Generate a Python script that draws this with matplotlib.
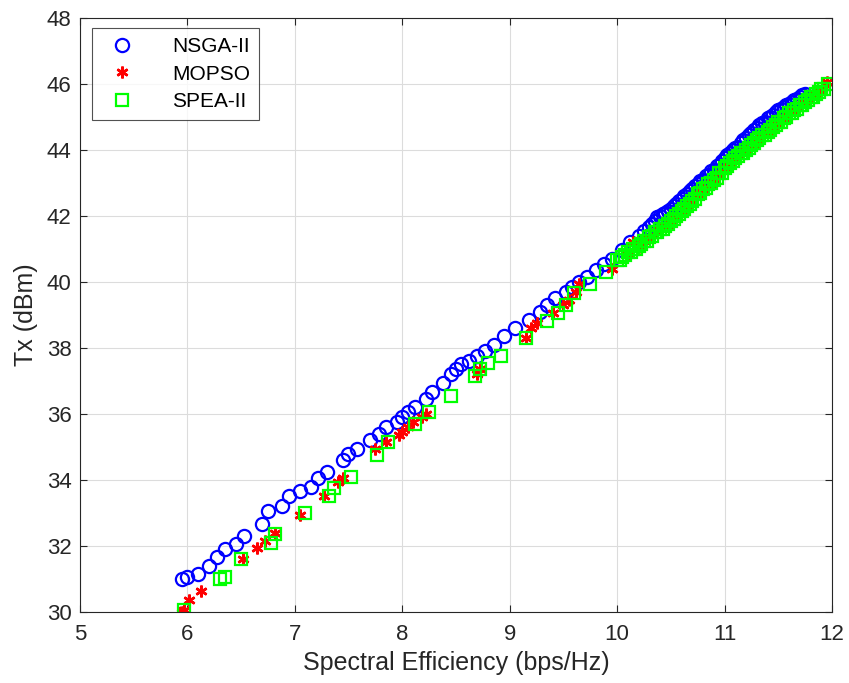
import matplotlib
matplotlib.use('Agg')
import matplotlib.pyplot as plt

# NSGA-II front
nsga_x = [5.95, 6.0, 6.1, 6.2, 6.28, 6.35, 6.45, 6.53, 6.7, 6.75, 6.88, 6.95, 7.05, 7.15,
          7.22, 7.3, 7.45, 7.5, 7.58, 7.7, 7.78, 7.85, 7.95, 8.0, 8.05, 8.12, 8.22, 8.28,
          8.38, 8.45, 8.5, 8.55, 8.62, 8.7, 8.77, 8.85, 8.95, 9.05, 9.18, 9.28, 9.35, 9.42,
          9.52, 9.58, 9.65, 9.72, 9.8, 9.88, 9.95, 10.05, 10.12, 10.2, 10.25,
          10.3, 10.35, 10.4, 10.45, 10.5, 10.55, 10.6, 10.65, 10.7, 10.75, 10.8, 10.85,
          10.9, 10.95, 11.0, 11.05, 11.1, 11.15, 11.2, 11.25, 11.3, 11.35, 11.4, 11.45,
          11.5, 11.55, 11.6, 11.65, 11.7, 11.75,
          10.325, 10.375, 10.425, 10.475, 10.525, 10.575, 10.625, 10.675, 10.725, 10.775,
          10.825, 10.875, 10.925, 10.975, 11.025, 11.075, 11.125, 11.175, 11.225, 11.275,
          11.325, 11.375, 11.425, 11.475, 11.525, 11.575, 11.625, 11.675, 11.725]
nsga_y = [31.0, 31.05, 31.15, 31.4, 31.65, 31.9, 32.05, 32.3, 32.65, 33.05, 33.2, 33.5, 33.65, 33.8,
          34.05, 34.25, 34.6, 34.8, 34.95, 35.2, 35.4, 35.6, 35.75, 35.9, 36.05, 36.2, 36.45, 36.65,
          36.95, 37.2, 37.35, 37.5, 37.6, 37.75, 37.9, 38.1, 38.35, 38.6, 38.85, 39.1, 39.3, 39.5,
          39.7, 39.85, 40.0, 40.15, 40.35, 40.55, 40.7, 40.95, 41.2, 41.4, 41.55,
          41.65, 41.85, 42.0, 42.1, 42.2, 42.35, 42.5, 42.65, 42.8, 42.95, 43.1, 43.25,
          43.4, 43.55, 43.75, 43.9, 44.05, 44.2, 44.35, 44.5, 44.65, 44.8, 44.95, 45.05,
          45.2, 45.3, 45.4, 45.5, 45.6, 45.7,
          41.75, 41.95, 42.05, 42.15, 42.3, 42.45, 42.6, 42.75, 42.9, 43.05,
          43.2, 43.35, 43.5, 43.65, 43.85, 44.0, 44.1, 44.3, 44.45, 44.6,
          44.75, 44.85, 45.0, 45.15, 45.25, 45.35, 45.45, 45.55, 45.65]

# MOPSO front
mopso_x = [5.95, 5.97, 6.02, 6.13, 6.52, 6.65, 6.72, 6.82, 7.05, 7.27, 7.4, 7.45, 7.75, 7.85,
           7.97, 8.0, 8.05, 8.1, 8.18, 8.22, 8.7, 8.72, 9.15, 9.2, 9.25, 9.4, 9.5, 9.55, 9.62,
           9.65, 9.95, 10.1, 10.15, 10.2, 10.26, 10.31, 10.36, 10.41, 10.46, 10.51, 10.56,
           10.61, 10.66, 10.71, 10.76, 10.81, 10.86, 10.91, 10.96, 11.01, 11.06, 11.11, 11.16,
           11.21, 11.26, 11.31, 11.36, 11.41, 11.46, 11.51, 11.56, 11.61, 11.66, 11.71, 11.76,
           11.81, 11.86, 11.91, 11.95]
mopso_y = [30.0, 30.05, 30.35, 30.65, 31.6, 31.95, 32.15, 32.4, 32.95, 33.5, 33.95, 34.05, 34.95, 35.15,
           35.35, 35.45, 35.6, 35.75, 35.9, 36.0, 37.2, 37.35, 38.3, 38.6, 38.75, 39.05, 39.3, 39.45, 39.7,
           39.95, 40.4, 40.85, 41.2, 41.05, 41.25, 41.35, 41.5, 41.6, 41.7, 41.85, 42.0,
           42.15, 42.3, 42.45, 42.65, 42.8, 42.95, 43.1, 43.3, 43.45, 43.6, 43.75, 43.9,
           44.0, 44.15, 44.3, 44.45, 44.55, 44.7, 44.85, 44.95, 45.1, 45.2, 45.35, 45.45,
           45.6, 45.7, 45.85, 46.05]

# SPEA-II front
spea_x = [5.97, 6.3, 6.35, 6.5, 6.78, 6.82, 7.1, 7.32, 7.37, 7.52, 7.77, 7.87, 8.12, 8.25,
          8.45, 8.68, 8.72, 8.8, 8.92, 9.15, 9.35, 9.45, 9.52, 9.6, 9.75, 9.9,
          10.0, 10.05, 10.1, 10.15, 10.2, 10.25, 10.3, 10.35, 10.4, 10.45, 10.5, 10.55,
          10.6, 10.65, 10.7, 10.75, 10.8, 10.85, 10.9, 10.95, 11.0, 11.05, 11.1, 11.15,
          11.2, 11.25, 11.3, 11.35, 11.4, 11.45, 11.5, 11.55, 11.6, 11.65, 11.7, 11.75,
          11.8, 11.85, 11.9, 11.96,
          10.025, 10.075, 10.125, 10.175, 10.225, 10.275, 10.325, 10.375, 10.425, 10.475,
          10.525, 10.575, 10.625, 10.675, 10.725, 10.775, 10.825, 10.875, 10.925, 10.975,
          11.025, 11.075, 11.125, 11.175, 11.225, 11.275, 11.325, 11.375, 11.425, 11.475,
          11.525, 11.575, 11.625, 11.675, 11.725, 11.775, 11.825, 11.875, 11.925]
spea_y = [30.05, 31.0, 31.05, 31.6, 32.1, 32.35, 33.0, 33.5, 33.75, 34.1, 34.75, 35.15, 35.7, 36.05,
          36.55, 37.15, 37.35, 37.55, 37.75, 38.3, 38.8, 39.05, 39.3, 39.65, 39.95, 40.3,
          40.65, 40.75, 40.9, 41.0, 41.1, 41.25, 41.35, 41.5, 41.6, 41.7, 41.85, 42.0,
          42.15, 42.3, 42.45, 42.65, 42.8, 42.95, 43.1, 43.3, 43.45, 43.6, 43.75, 43.9,
          44.0, 44.15, 44.3, 44.45, 44.55, 44.7, 44.85, 44.95, 45.1, 45.2, 45.35, 45.45,
          45.6, 45.7, 45.85, 46.0,
          40.65, 40.8, 40.9, 41.0, 41.15, 41.25, 41.4, 41.5, 41.6, 41.75,
          41.9, 42.05, 42.2, 42.35, 42.5, 42.7, 42.85, 43.0, 43.15, 43.3,
          43.5, 43.65, 43.8, 43.9, 44.05, 44.2, 44.35, 44.45, 44.6, 44.75,
          44.85, 45.0, 45.1, 45.25, 45.35, 45.5, 45.6, 45.75, 45.85]

plt.rcParams['font.family'] = ['Liberation Sans', 'DejaVu Sans']

fig = plt.figure(figsize=(8.49, 6.83), dpi=100)
ax = fig.add_axes([0.094, 0.104, 0.886, 0.870])

ax.plot(nsga_x, nsga_y, linestyle='none', marker='o', markersize=9.5, markerfacecolor='none',
        markeredgecolor='#0000ff', markeredgewidth=1.6, label='NSGA-II')
ax.plot(mopso_x, mopso_y, linestyle='none', marker=(6, 2, 0), markersize=8.5,
        markeredgecolor='#ff0000', markeredgewidth=1.8, label='MOPSO')
ax.plot(spea_x, spea_y, linestyle='none', marker='s', markersize=8.5, markerfacecolor='none',
        markeredgecolor='#00ff00', markeredgewidth=1.6, label='SPEA-II')

ax.set_xlim(5, 12)
ax.set_ylim(30, 48)
ax.set_xticks(range(5, 13))
ax.set_yticks(range(30, 49, 2))
ax.grid(True, color='#dcdcdc', linewidth=0.8)
ax.set_axisbelow(True)
ax.tick_params(direction='in', length=5, labelsize=16, colors='#262626', top=True, right=True)
ax.tick_params(axis='x', pad=9)
ax.tick_params(axis='y', pad=6)
for s in ax.spines.values():
    s.set_color('#262626')
ax.set_xlabel('Spectral Efficiency (bps/Hz)', fontsize=18, color='#262626', labelpad=4)
ax.set_ylabel('Tx (dBm)', fontsize=18, color='#262626', labelpad=6)

leg = ax.legend(loc='upper left', fontsize=15, frameon=True, fancybox=False, edgecolor='#262626',
                handletextpad=1.4, borderpad=0.45, labelspacing=0.4, borderaxespad=0,
                bbox_to_anchor=(0.016, 0.983))
leg.get_frame().set_linewidth(0.8)

fig.savefig('out.png', dpi=100)
